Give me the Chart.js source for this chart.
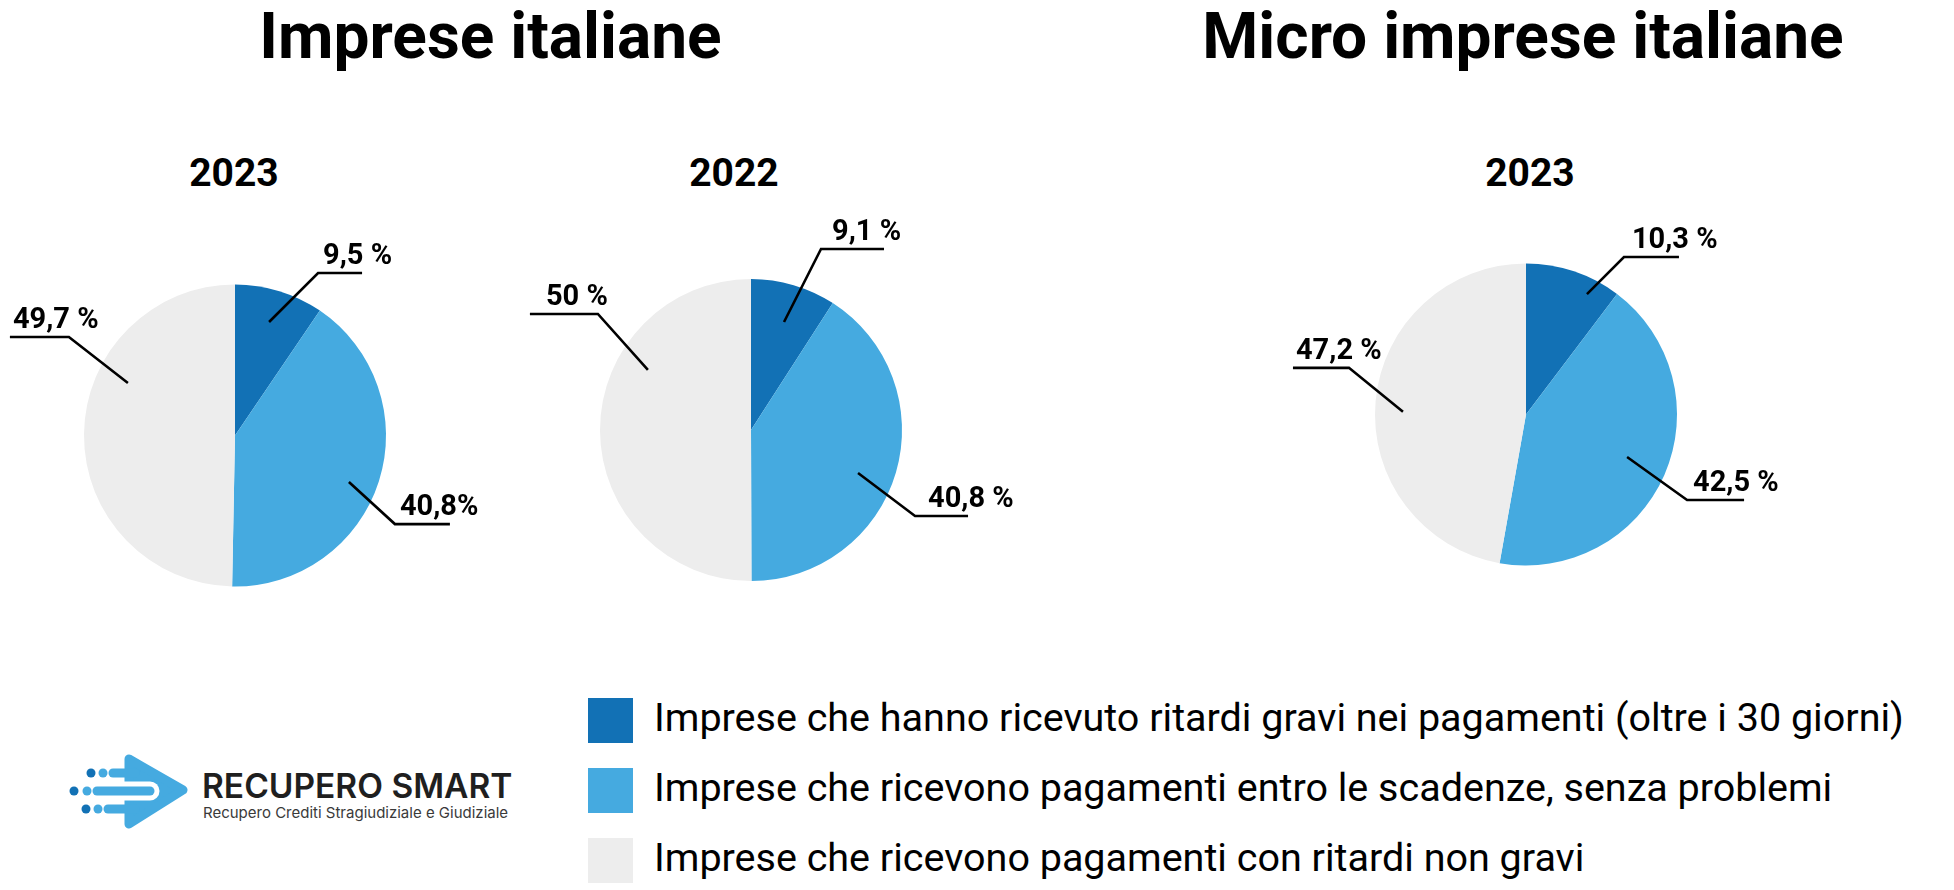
<!DOCTYPE html>
<html lang="it">
<head>
<meta charset="utf-8">
<title>Ritardi nei pagamenti - imprese italiane</title>
<script src="https://cdn.jsdelivr.net/npm/chart.js@4.4.0/dist/chart.umd.min.js"></script>
<style>
  html, body { margin: 0; padding: 0; background: #fff; }
  body { width: 1954px; height: 890px; position: relative; overflow: hidden; font-family: Roboto, sans-serif; color: #000; }
  .abs { position: absolute; white-space: nowrap; }
  .main { font-size: 64px; line-height: 64px; font-weight: 700; text-align: center; }
  .year { font-size: 39px; line-height: 39px; font-weight: 700; text-align: center; width: 200px; }
  .box { width: 45px; height: 45px; }
  .leg { font-size: 39.5px; line-height: 40px; }
  .brand { font-family: Inter, sans-serif; color: #1f1f1f; }
</style>
</head>
<body>

<div class="abs main" style="left:0px; top:5px; width:981px;">Imprese italiane</div>
<div class="abs main" style="left:1123px; top:5px; width:800px;">Micro imprese italiane</div>

<div class="abs year" style="left:134px; top:154px;">2023</div>
<div class="abs year" style="left:634px; top:154px;">2022</div>
<div class="abs year" style="left:1430px; top:154px;">2023</div>

<canvas id="pie1" class="abs" width="500" height="420" style="left:0px; top:200px;"></canvas>
<canvas id="pie2" class="abs" width="530" height="420" style="left:510px; top:200px;"></canvas>
<canvas id="pie3" class="abs" width="530" height="420" style="left:1270px; top:200px;"></canvas>

<div id="legend"></div>

<!-- logo -->
<svg class="abs" style="left:60px; top:745px;" width="140" height="95" viewBox="0 0 140 95">
  <path d="M69 14 L123 45 L69 79 Z" fill="#45aae0" stroke="#45aae0" stroke-width="9" stroke-linejoin="round"/>
  <line x1="53" y1="28" x2="75" y2="28" stroke="#45aae0" stroke-width="9" stroke-linecap="round"/>
  <line x1="48" y1="64" x2="75" y2="64" stroke="#45aae0" stroke-width="9" stroke-linecap="round"/>
  <line x1="30" y1="46" x2="90" y2="46" stroke="#fff" stroke-width="19" stroke-linecap="round"/>
  <line x1="37" y1="46" x2="90" y2="46" stroke="#45aae0" stroke-width="9" stroke-linecap="round"/>
  <circle cx="31" cy="28" r="4.5" fill="#1271b5"/>
  <circle cx="43" cy="28" r="4.5" fill="#45aae0"/>
  <circle cx="14" cy="46" r="4.5" fill="#1271b5"/>
  <circle cx="27" cy="46" r="4.5" fill="#45aae0"/>
  <circle cx="26" cy="64" r="4.5" fill="#1271b5"/>
  <circle cx="38" cy="64" r="4.5" fill="#45aae0"/>
</svg>
<div class="abs brand" style="left:202px; top:770px; font-size:33.5px; line-height:33.5px; font-weight:600;">RECUPERO SMART</div>
<div class="abs brand" style="left:203px; top:805px; font-size:15px; line-height:15px; color:#3a3a3a;">Recupero Crediti Stragiudiziale e Giudiziale</div>

<script>
var categories = [
  'Imprese che hanno ricevuto ritardi gravi nei pagamenti (oltre i 30 giorni)',
  'Imprese che ricevono pagamenti entro le scadenze, senza problemi',
  'Imprese che ricevono pagamenti con ritardi non gravi'
];
var colors = ['#1271b5', '#45aae0', '#ededed'];

// percentuali
var imprese2023 = [9.5, 40.8, 49.7];
var imprese2022 = [9.1, 40.8, 50];
var micro2023 = [10.3, 42.5, 47.2];

var texts2023 = ['9,5 %', '40,8%', '49,7 %'];
var texts2022 = ['9,1 %', '40,8 %', '50 %'];
var textsMicro = ['10,3 %', '42,5 %', '47,2 %'];

// callout: [shift deg, radius factor, elbow dx, elbow dy, tail length, text dx]
var call2023 = [[-0.4, 0.785, 49, -49, 44, 5], [4.6, 0.815, 46, 42, 55, 5], [25.6, 0.79, -59, -46, -59, 3]];
var call2022 = [[0.6, 0.748, 37, -73, 63, 11], [5.6, 0.764, 57, 43, 53, 13], [30.3, 0.79, -50, -56, -68, 16]];
var callMicro = [[8.3, 0.894, 37, -37, 55, 8], [-0.8, 0.726, 60, 43, 57, 6], [-3.8, 0.815, -54, -44, -56, 3]];

// legend
var legend = document.getElementById('legend');
categories.forEach(function(name, i) {
  var top = 698 + i * 70;
  var b = document.createElement('div');
  b.className = 'abs box';
  b.style.left = '588px';
  b.style.top = top + 'px';
  b.style.background = colors[i];
  legend.appendChild(b);
  var t = document.createElement('div');
  t.className = 'abs leg';
  t.style.left = '654px';
  t.style.top = top + 'px';
  t.textContent = name;
  legend.appendChild(t);
});

var calloutPlugin = {
  id: 'callouts',
  afterDatasetsDraw: function(chart, args, opts) {
    var ctx = chart.ctx;
    var arcs = chart.getDatasetMeta(0).data;
    ctx.save();
    ctx.strokeStyle = '#000';
    ctx.fillStyle = '#000';
    ctx.lineWidth = 2.6;
    ctx.font = 'bold 29px Roboto';
    ctx.textAlign = 'left';
    ctx.textBaseline = 'alphabetic';
    arcs.forEach(function(arc, i) {
      var p = arc.getProps(['x', 'y', 'startAngle', 'endAngle', 'outerRadius']);
      var c = opts.layout[i];
      var a = (p.startAngle + p.endAngle) / 2 + c[0] * Math.PI / 180;
      var x0 = p.x + Math.cos(a) * p.outerRadius * c[1];
      var y0 = p.y + Math.sin(a) * p.outerRadius * c[1];
      var x1 = x0 + c[2], y1 = y0 + c[3], x2 = x1 + c[4];
      ctx.beginPath();
      ctx.moveTo(x0, y0);
      ctx.lineTo(x1, y1);
      ctx.lineTo(x2, y1);
      ctx.stroke();
      var tx = (c[4] > 0 ? x1 : x2) + c[5];
      ctx.fillText(opts.texts[i], tx, y1 - 9);
    });
    ctx.restore();
  }
};

function makePie(id, values, texts, layout, pad) {
  return new Chart(document.getElementById(id), {
    type: 'pie',
    data: {
      labels: categories,
      datasets: [{ data: values, backgroundColor: colors, borderWidth: 0 }]
    },
    options: {
      responsive: false,
      animation: false,
      events: [],
      radius: 151,
      layout: { padding: pad },
      plugins: {
        legend: { display: false },
        tooltip: { enabled: false },
        callouts: { texts: texts, layout: layout }
      }
    },
    plugins: [calloutPlugin]
  });
}

makePie('pie1', imprese2023, texts2023, call2023, { left: 85, top: 85.5, right: 115, bottom: 34.5 });
makePie('pie2', imprese2022, texts2022, call2022, { left: 91, top: 80, right: 139, bottom: 40 });
makePie('pie3', micro2023, textsMicro, callMicro, { left: 106, top: 64.5, right: 124, bottom: 55.5 });
</script>
</body>
</html>
